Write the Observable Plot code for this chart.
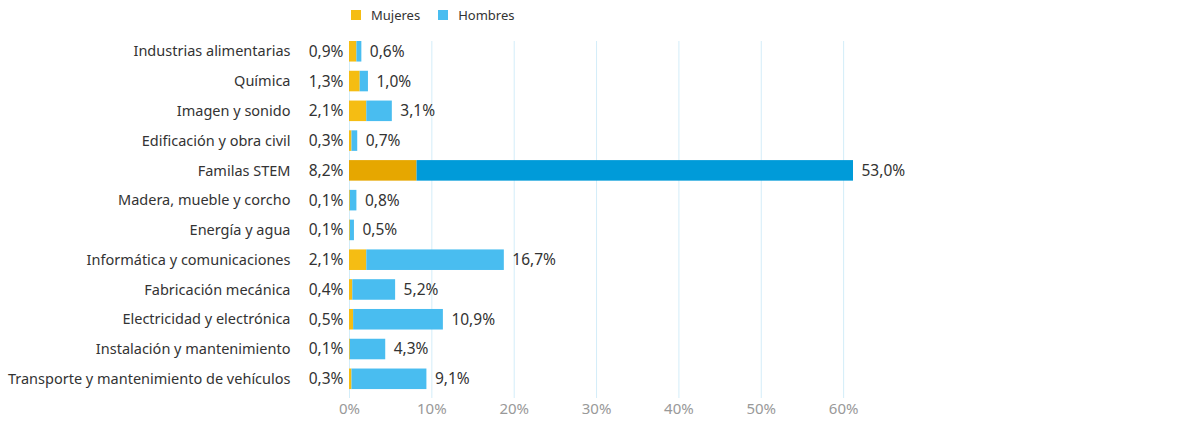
<!DOCTYPE html>
<html><head><meta charset="utf-8">
<script src="https://cdn.jsdelivr.net/npm/d3@7"></script>
<script src="https://cdn.jsdelivr.net/npm/@observablehq/plot@0.6"></script>
<style>
body{margin:0;background:#fff;font-family:"Noto Sans",sans-serif}
#legend{height:30px;display:flex;align-items:center;padding-left:351px;font-size:13px;color:#333;box-sizing:border-box}
.sw{width:10px;height:10px;display:inline-block;margin-right:10px}
.item{display:flex;align-items:center;margin-right:18px}
</style></head>
<body>
<div id="legend"></div>
<div id="chart"></div>
<script>
const categories = [
  "Industrias alimentarias",
  "Química",
  "Imagen y sonido",
  "Edificación y obra civil",
  "Familas STEM",
  "Madera, mueble y corcho",
  "Energía y agua",
  "Informática y comunicaciones",
  "Fabricación mecánica",
  "Electricidad y electrónica",
  "Instalación y mantenimiento",
  "Transporte y mantenimiento de vehículos"
];
const mujeres = [0.9, 1.3, 2.1, 0.3, 8.2, 0.1, 0.1, 2.1, 0.4, 0.5, 0.1, 0.3];
const hombres = [0.6, 1.0, 3.1, 0.7, 53.0, 0.8, 0.5, 16.7, 5.2, 10.9, 4.3, 9.1];
const series = ["Mujeres", "Hombres"];
const colors = ["#f5bd13", "#49bdf0"];
const colorsHighlight = ["#e6a700", "#009bd9"];
const highlight = "Familas STEM";
const xTicks = [0, 10, 20, 30, 40, 50, 60];

const fmt = v => d3.format(".1f")(v).replace(".", ",") + "%";

const rows = categories.flatMap((c, i) => [
  {cat: c, serie: series[0], value: mujeres[i]},
  {cat: c, serie: series[1], value: hombres[i]}
]);
const totals = categories.map((c, i) => ({cat: c, m: mujeres[i], h: hombres[i], t: mujeres[i] + hombres[i]}));

// legend
const lg = document.getElementById("legend");
series.forEach((s, i) => {
  const it = document.createElement("span");
  it.className = "item";
  it.innerHTML = `<span class="sw" style="background:${colors[i]}"></span>${s}`;
  lg.appendChild(it);
});

const chart = Plot.plot({
  width: 1180,
  height: 397,
  marginLeft: 349,
  marginRight: 327,
  marginTop: 11,
  marginBottom: 29,
  style: {fontFamily: "'Noto Sans', sans-serif", background: "#fff"},
  x: {domain: [0, 61.2], axis: null},
  y: {domain: categories, paddingInner: 0.31, paddingOuter: 0.15, align: 0, round: false, axis: null},
  color: {type: "identity"},
  marks: [
    Plot.gridX(xTicks, {stroke: "#d3edf9", strokeOpacity: 1, strokeWidth: 1}),
    Plot.barX(rows, Plot.stackX({
      x: "value", y: "cat",
      fill: d => (d.cat === highlight ? colorsHighlight : colors)[series.indexOf(d.serie)]
    })),
    Plot.text(totals, {x: 0, y: "cat", text: d => fmt(d.m), textAnchor: "end", dx: -6, fill: "#333", fontSize: 15.5}),
    Plot.text(totals, {x: "t", y: "cat", text: d => fmt(d.h), textAnchor: "start", dx: 8, fill: "#333", fontSize: 15.5}),
    Plot.axisY({domain: categories, tickSize: 0, tickPadding: 59, fontSize: 14.5, fill: "#333", label: null}),
    Plot.axisX({ticks: xTicks, tickSize: 0, tickPadding: 5, fontSize: 15, fill: "#999", tickFormat: d => d + "%", label: null})
  ]
});
document.getElementById("chart").appendChild(chart);
</script>
</body></html>
